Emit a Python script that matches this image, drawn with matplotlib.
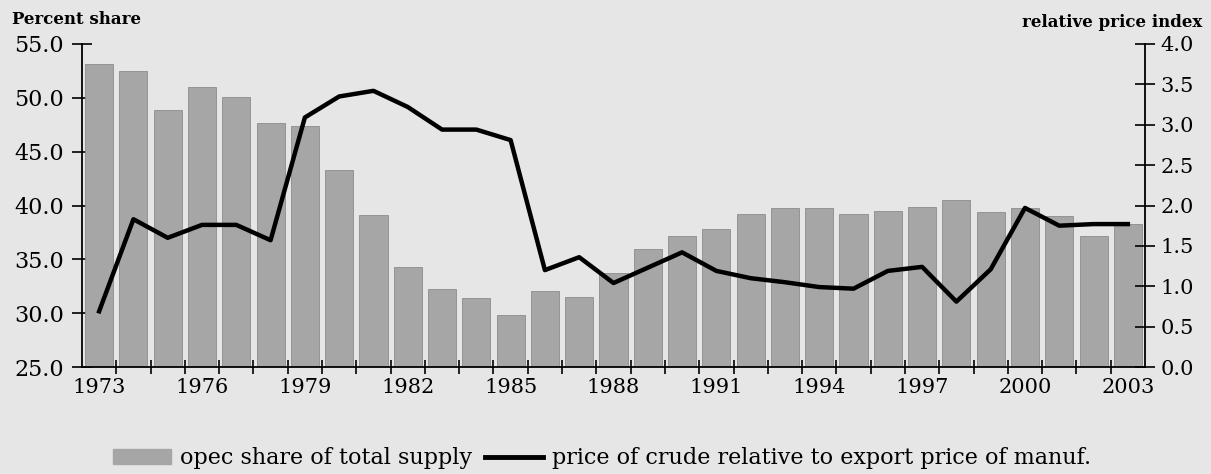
import numpy as np
import matplotlib.pyplot as plt
from matplotlib.lines import Line2D
from matplotlib.patches import Patch

years = list(range(1973, 2004))
opec_share = [53.1, 52.5, 48.9, 51.0, 50.1, 47.7, 47.4, 43.3, 39.1, 34.3,
              32.2, 31.4, 29.8, 32.1, 31.5, 33.7, 36.0, 37.2, 37.8, 39.2,
              39.8, 39.8, 39.2, 39.5, 39.9, 40.5, 39.4, 39.8, 39.0, 37.2, 38.3]
rel_price = [0.69, 1.83, 1.60, 1.76, 1.76, 1.57, 3.09, 3.35, 3.42, 3.22,
             2.94, 2.94, 2.81, 1.20, 1.36, 1.04, 1.23, 1.42, 1.19, 1.10,
             1.05, 0.99, 0.97, 1.19, 1.24, 0.81, 1.21, 1.97, 1.75, 1.77, 1.77]
label_years = years[::3]

plt.rcParams['font.family'] = ['DejaVu Serif']
bg = '#e6e6e6'

fig = plt.figure(figsize=(12.11, 4.74), dpi=100, facecolor=bg)
ax = fig.add_axes([0.0677, 0.2257, 0.8778, 0.6815])
ax.set_facecolor(bg)

x = np.arange(len(years))
ax.bar(x, opec_share, width=0.82, bottom=0, color='#a6a6a6',
       edgecolor='#8c8c8c', linewidth=0.6, zorder=2)
ax.set_ylim(25, 55)
ax.set_xlim(-0.5, len(years) - 0.5)
ax.set_yticks(np.arange(25, 56, 5))
ax.set_yticklabels(['%.1f' % v for v in np.arange(25, 56, 5)], fontsize=16)
ax.set_xticks([years.index(y) for y in label_years])
ax.set_xticklabels([str(y) for y in label_years], fontsize=15)
ax.set_xticks(np.arange(0.5, len(years) - 1, 1), minor=True)
ax.tick_params(axis='x', which='major', length=0, pad=8)
ax.tick_params(axis='x', which='minor', direction='inout', length=10, width=1.2)
ax.tick_params(axis='y', direction='inout', length=14, width=1.2, pad=6)
ax.spines['top'].set_visible(False)
ax.spines['right'].set_visible(False)
for s in ['left', 'bottom']:
    ax.spines[s].set_linewidth(1.3)

ax2 = ax.twinx()
ax2.plot(x, rel_price, color='black', linewidth=3.2, zorder=3)
ax2.set_ylim(0, 4)
ax2.set_yticks(np.arange(0, 4.01, 0.5))
ax2.set_yticklabels(['%.1f' % v for v in np.arange(0, 4.01, 0.5)], fontsize=15)
ax2.tick_params(axis='y', direction='inout', length=14, width=1.2, pad=4)
ax2.spines['top'].set_visible(False)
ax2.spines['left'].set_visible(False)
ax2.spines['bottom'].set_visible(False)
ax2.spines['right'].set_linewidth(1.3)

fig.text(0.010, 0.958, 'Percent share', fontsize=12, fontweight='bold', va='center')
fig.text(0.993, 0.953, 'relative price index', fontsize=12, fontweight='bold',
         va='center', ha='right')

handles = [Patch(facecolor='#a6a6a6', edgecolor='#a6a6a6'),
           Line2D([0], [0], color='black', linewidth=3.5)]
fig.legend(handles, ['opec share of total supply',
                     'price of crude relative to export price of manuf.'],
           loc='center', bbox_to_anchor=(0.497, 0.033), ncol=2, frameon=False,
           fontsize=16, handlelength=2.6, handletextpad=0.4, columnspacing=0.6)

fig.savefig('out.png', dpi=100, facecolor=bg)
